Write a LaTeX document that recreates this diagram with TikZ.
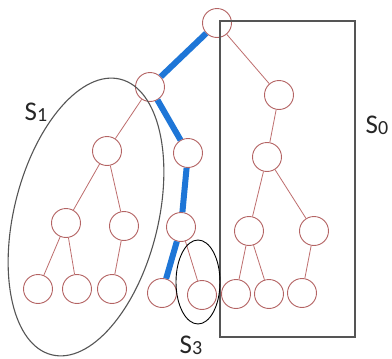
\documentclass[tikz,border=0pt]{standalone}
\usepackage{fontspec}
\setmainfont{Carlito}
\begin{document}
\begin{tikzpicture}[x=1pt,y=-1pt,
  vtx/.style={circle,draw=vtxred,line width=0.9pt,fill=white,minimum size=29pt,inner sep=0pt},
  edge/.style={draw=edgered,line width=0.8pt},
  path/.style={draw=pathblue,line width=6pt},
  frame/.style={draw=framegray,line width=1.1pt},
  lab/.style={font=\fontsize{27}{30}\selectfont,text=black!85,inner sep=0pt}]
\definecolor{vtxred}{RGB}{180,100,100}
\definecolor{edgered}{RGB}{190,110,110}
\definecolor{pathblue}{RGB}{30,118,215}
\definecolor{framegray}{RGB}{85,85,85}
\useasboundingbox (0,0) rectangle (392,359);
\fill[white] (0,0) rectangle (392,359);
% vertices
\node[vtx] (r)  at (217,23) {};
\node[vtx] (a)  at (150,87) {};
\node[vtx] (l1) at (107,151) {};
\node[vtx] (l2) at (66,223) {};
\node[vtx] (l3) at (124,226) {};
\node[vtx] (l4) at (38,289) {};
\node[vtx] (l5) at (77,289) {};
\node[vtx] (l6) at (112,289) {};
\node[vtx] (b)  at (188,153) {};
\node[vtx] (c)  at (181,227) {};
\node[vtx] (d)  at (162,293) {};
\node[vtx] (e)  at (202,295) {};
\node[vtx] (p1) at (279,95) {};
\node[vtx] (p2) at (267,157) {};
\node[vtx] (p3) at (249,231) {};
\node[vtx] (p4) at (314,231) {};
\node[vtx] (p5) at (236,294) {};
\node[vtx] (p6) at (269,294) {};
\node[vtx] (p7) at (302,293) {};
% ordinary edges
\path[edge] (r) -- (p1) (p1) -- (p2) (p2) -- (p3) (p2) -- (p4)
  (p3) -- (p5) (p3) -- (p6) (p4) -- (p7)
  (a) -- (l1) (l1) -- (l2) (l1) -- (l3) (l2) -- (l4) (l2) -- (l5) (l3) -- (l6)
  (c) -- (e);
% highlighted path
\path[path] (r) -- (a) (a) -- (b) (b) -- (c) (c) -- (d);
% sets
\draw[frame] (220,21) rectangle (355,337);
\draw[frame] (86,217) ellipse[x radius=72,y radius=142,rotate=-14];
\draw[frame,line width=0.9pt,draw=black] (198,282) ellipse[x radius=22,y radius=42];
% labels
\node[lab] (s1) at (36,112) {S\raisebox{-0.1ex}{\fontsize{20}{22}\selectfont 1}};
\node[lab] (s0) at (377,125) {S\raisebox{-0.1ex}{\fontsize{20}{22}\selectfont 0}};
\node[lab] (s3) at (191,345) {S\raisebox{-0.1ex}{\fontsize{20}{22}\selectfont 3}};
\end{tikzpicture}
\end{document}
